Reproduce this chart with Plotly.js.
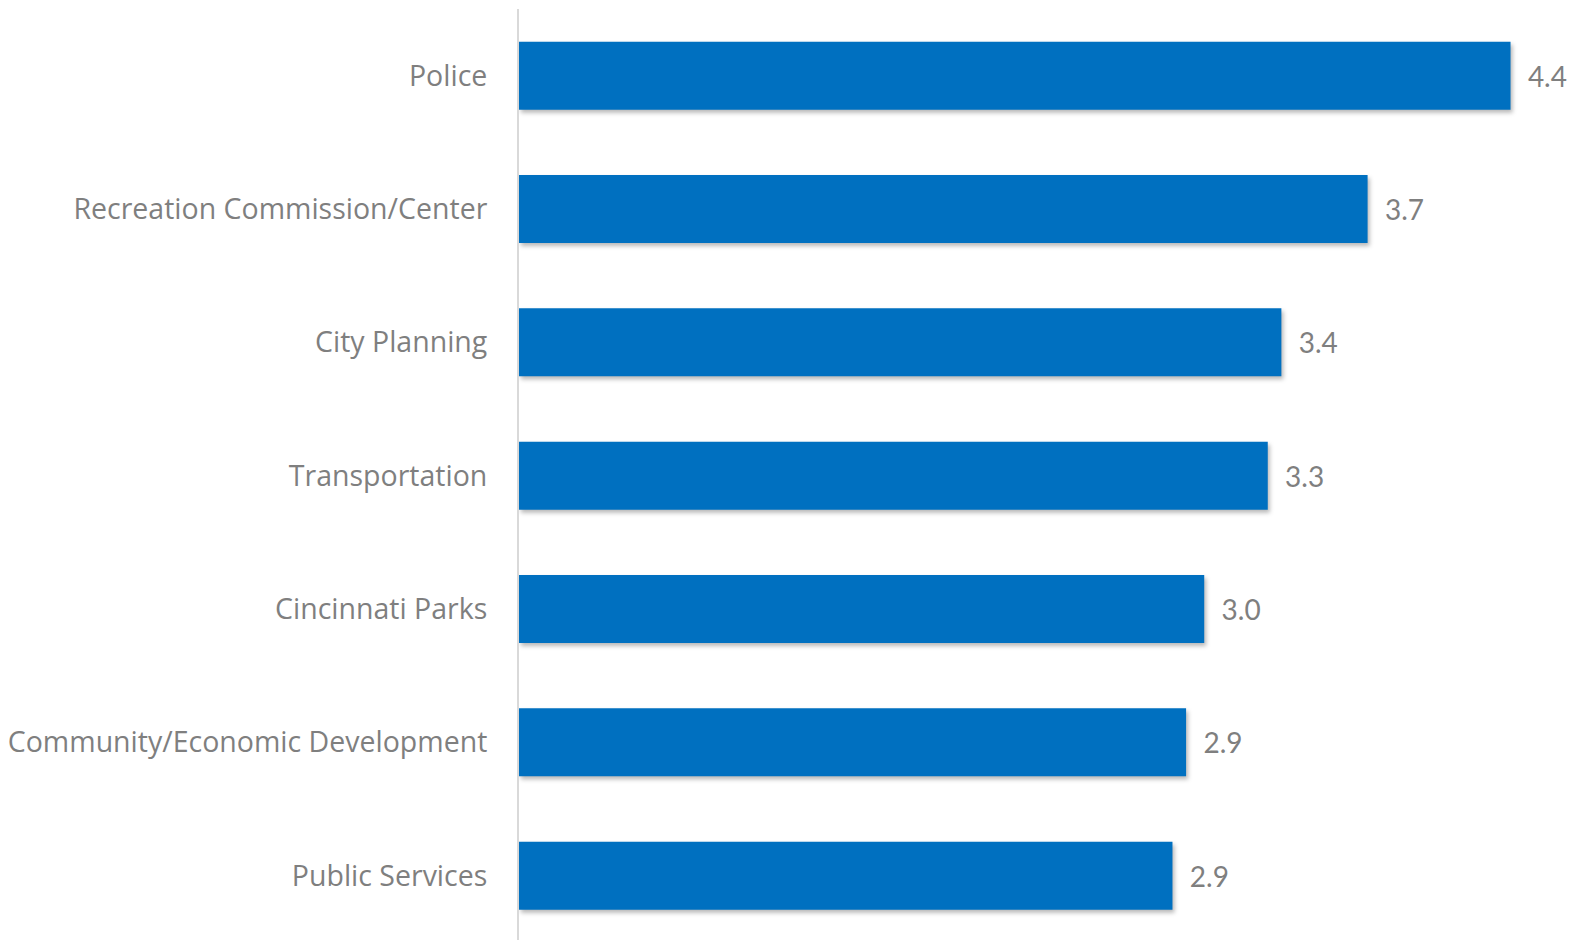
<!DOCTYPE html>
<html>
<head>
<meta charset="utf-8">
<script src="https://cdn.plot.ly/plotly-3.0.1.min.js"></script>
<style>
html,body{margin:0;padding:0;background:#fff;}
#chart{width:1577px;height:940px;}
.barlayer .point path{filter:drop-shadow(2px 3px 2px rgba(0,0,0,0.28));}
</style>
</head>
<body>
<div id="chart"></div>
<script>
const categories = ["Police","Recreation Commission/Center","City Planning","Transportation","Cincinnati Parks","Community/Economic Development","Public Services"];
const values = [4.37, 3.74, 3.36, 3.30, 3.02, 2.94, 2.88];
const labels = ["4.4","3.7","3.4","3.3","3.0","2.9","2.9"];

const trace = {
  type: "bar",
  orientation: "h",
  y: categories,
  x: values,
  text: labels.map(s => "  " + s),
  texttemplate: "%{text}",
  textposition: "outside",
  cliponaxis: false,
  marker: {color: "#0070C0"},
  width: 0.51,
  textfont: {family: "Lato, 'Open Sans', sans-serif", size: 28, color: "#7f7f7f"},
  hoverinfo: "none"
};

const layout = {
  width: 1577, height: 940,
  margin: {l: 519, r: 12, t: 9, b: 0},
  paper_bgcolor: "#ffffff",
  plot_bgcolor: "#ffffff",
  showlegend: false,
  xaxis: {range: [0, 4.61], visible: false, showgrid: false, zeroline: false},
  yaxis: {
    type: "category",
    range: [6.4825, -0.5],
    showline: true, linecolor: "#d9d9d9", linewidth: 2,
    showgrid: false, zeroline: false,
    ticks: "", ticklabelstandoff: 24,
    tickfont: {family: "'Open Sans', Lato, sans-serif", size: 28.5, color: "#7f7f7f"}
  }
};

Plotly.newPlot("chart", [trace], layout, {staticPlot: true, displayModeBar: false});
</script>
</body>
</html>
